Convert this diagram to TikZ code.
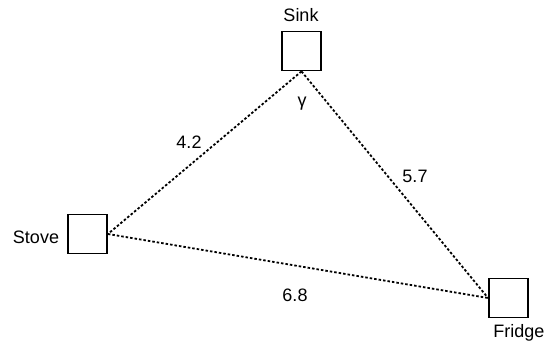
\documentclass[tikz,border=0pt]{standalone}
\usepackage{fontspec}
\setmainfont{Liberation Sans}
\begin{document}
\begin{tikzpicture}[x=1pt,y=-1pt,
  room/.style={draw,line width=1.8pt,minimum size=39pt,inner sep=0pt},
  lbl/.style={font=\fontsize{18}{21}\selectfont,inner sep=0pt},
  link/.style={line width=1.8pt,dash pattern=on 2.5pt off 2pt}]
\useasboundingbox (0,0) rectangle (547,354);
\node[room] (sink) at (301.5,51) {};
\node[room] (stove) at (87.5,234) {};
\node[room] (fridge) at (508.5,298) {};
\node[lbl] (sinkl) at (301,15) {Sink};
\node[lbl] (stovel) at (36,237) {Stove};
\node[lbl] (fridgel) at (519,333) {Fridge};
\node[lbl] (g) at (302,104) {γ};
\node[lbl] (a) at (189,142) {4.2};
\node[lbl] (b) at (415,176) {5.7};
\node[lbl] (c) at (295,295) {6.8};
\draw[link] (sink.south) -- (stove.east);
\draw[link] (sink.south) -- (fridge.west);
\draw[link] (stove.east) -- (fridge.west);
\end{tikzpicture}
\end{document}
